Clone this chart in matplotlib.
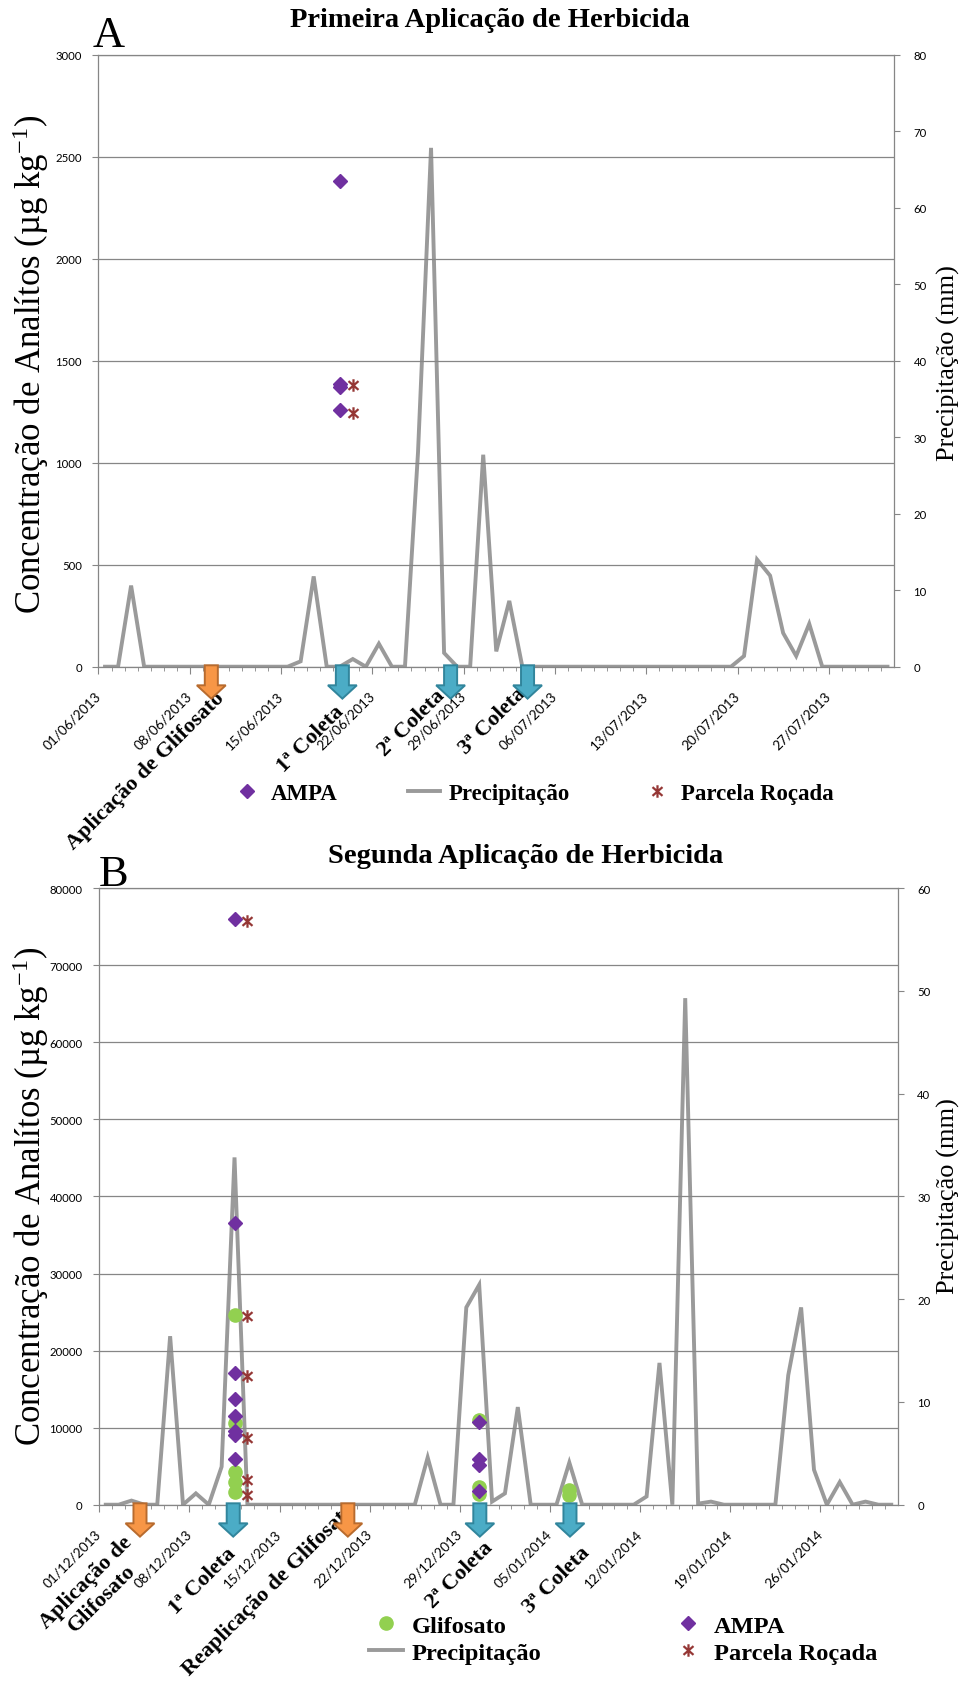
"""
Precipitação diária e concentrações de glifosato / AMPA no solo,
duas campanhas de aplicação de herbicida (painéis A e B).

Gera out.png (970 x 1690 px).
"""

import numpy as np
import matplotlib

matplotlib.use("Agg")
import matplotlib.pyplot as plt
from matplotlib.path import Path
from matplotlib.patches import Polygon
from matplotlib.lines import Line2D
from matplotlib.transforms import Affine2D, ScaledTranslation

plt.rcParams["mathtext.fontset"] = "custom"
plt.rcParams["mathtext.rm"] = "Liberation Serif"
plt.rcParams["mathtext.it"] = "Liberation Serif:italic"
plt.rcParams["mathtext.bf"] = "Liberation Serif:bold"

SERIF = "Liberation Serif"
SANS = "Lato"

CINZA = "#868686"
COR_CHUVA = "#9a9a9a"
COR_AMPA = "#7030A0"
COR_GLIF = "#92D050"
COR_ROCADA = "#953735"

# ---------------- Painel A: 01/06/2013 a 31/07/2013 ----------------
DATAS_A = ["01/06/2013", "08/06/2013", "15/06/2013", "22/06/2013", "29/06/2013",
           "06/07/2013", "13/07/2013", "20/07/2013", "27/07/2013"]

precip_a = [0, 0, 10.6, 0, 0, 0, 0, 0, 0, 0, 0, 0, 0, 0, 0,
            0.7, 11.8, 0, 0, 1.0, 0, 3.0, 0, 0, 28.0, 67.8, 1.8, 0, 0, 27.7, 2.0, 8.6, 0,
            0, 0, 0, 0, 0, 0, 0, 0, 0, 0, 0, 0, 0, 0, 0, 0,
            1.4, 14.0, 11.9, 4.4, 1.4, 5.6,
            0, 0, 0, 0, 0, 0]

ampa_dia_a = [18, 18, 18, 18]
ampa_a = [2380, 1385, 1370, 1258]

rocada_dia_a = [19, 19]
rocada_a = [1378, 1245]

seta_aplic_a = [8.15]
seta_coleta_a = [18.2, 26.5, 32.4]

# ---------------- Painel B: 01/12/2013 a 31/01/2014 ----------------
DATAS_B = ["01/12/2013", "08/12/2013", "15/12/2013", "22/12/2013", "29/12/2013",
           "05/01/2014", "12/01/2014", "19/01/2014", "26/01/2014"]

precip_b = [0, 0, 0.4, 0, 0, 16.4, 0, 1.1, 0, 3.7, 33.8,
            0, 0, 0, 0, 0, 0, 0, 0, 0, 0, 0, 0, 0, 0,
            4.6, 0, 0, 19.2, 21.4, 0.3, 1.1, 9.5, 0, 0, 0, 4.1,
            0, 0, 0, 0, 0,
            0.8, 13.8, 0, 49.3, 0.1, 0.3,
            0, 0, 0, 0, 0,
            12.6, 19.2, 3.4, 0, 2.2, 0, 0.3, 0, 0]

glif_dia_b = [10, 10, 10, 10, 10, 29, 29, 29, 36, 36]
glif_b = [24600, 10550, 4300, 3000, 1700, 11000, 2300, 1400, 1900, 1200]

ampa_dia_b = [10, 10, 10, 10, 10, 10, 10, 10, 29, 29, 29, 29]
ampa_b = [76000, 36600, 17050, 13700, 11500, 9600, 9100, 5900, 10700, 5900, 5100, 1800]

rocada_dia_b = [11, 11, 11, 11, 11, 11]
rocada_b = [75800, 24500, 16700, 8700, 3200, 1300]

seta_aplic_b = [2.66, 18.8]
seta_coleta_b = [9.9, 29.05, 36.05]

# marcador "estrela" do Excel: X com traço vertical
ASTERISCO = Path(
    [(0, -1), (0, 1), (-0.8, -0.7), (0.8, 0.7), (-0.8, 0.7), (0.8, -0.7)],
    [Path.MOVETO, Path.LINETO] * 3,
)

W, H = 970, 1690
fig = plt.figure(figsize=(W / 100, H / 100), dpi=100)


def px_rect(left, top, right, bottom):
    return [left / W, 1 - bottom / H, (right - left) / W, (bottom - top) / H]


def montar_eixos(ax, n_dias, rotulos, ymax, ystep, mm_max):
    """Eixo de concentração (esq.) e eixo de precipitação (dir.)."""
    ax.set_xlim(-0.5, n_dias - 0.5)
    ax.set_ylim(0, ymax)
    ax.set_yticks(np.arange(0, ymax + 1, ystep))
    ax.yaxis.grid(True, color=CINZA, lw=0.9)
    ax.set_xticks(np.arange(0, n_dias, 7) - 0.5)
    ax.set_xticklabels(rotulos, rotation=45, ha="right", va="center",
                       rotation_mode="anchor", fontsize=9.8, family=SANS)
    desloca = ScaledTranslation(8 / 72, 0, fig.dpi_scale_trans)
    for lab in ax.get_xticklabels():
        lab.set_transform(lab.get_transform() + desloca)
    ax.set_xticks(np.arange(n_dias) - 0.5, minor=True)
    ax.tick_params(axis="x", which="major", length=5, color=CINZA, pad=14)
    ax.tick_params(axis="x", which="minor", length=3, color=CINZA)
    ax.tick_params(axis="y", length=4, color=CINZA, labelsize=8.2, pad=8)
    for lab in ax.get_yticklabels():
        lab.set_family(SANS)
    for sp in ax.spines.values():
        sp.set_color(CINZA)
        sp.set_linewidth(0.9)
    ax.spines["right"].set_visible(False)

    ax2 = ax.twinx()
    ax2.set_ylim(0, mm_max)
    ax2.set_yticks(np.arange(0, mm_max + 1, 10))
    ax2.tick_params(axis="y", length=4, color=CINZA, labelsize=8.2, pad=10)
    for lab in ax2.get_yticklabels():
        lab.set_family(SANS)
    for sp in ax2.spines.values():
        sp.set_visible(False)
    ax2.spines["right"].set_visible(True)
    ax2.spines["right"].set_color(CINZA)
    ax2.spines["right"].set_linewidth(0.9)

    ax.set_zorder(ax2.get_zorder() + 1)
    ax.patch.set_visible(False)
    return ax2


def seta(ax, x, fc, ec):
    """Seta larga para baixo, desenhada em pontos a partir de (x, 0)."""
    verts = [(-4.7, 1), (4.7, 1), (4.7, -13.4), (10.4, -13.4), (0, -23),
             (-10.4, -13.4), (-4.7, -13.4)]
    trans = (Affine2D().scale(1 / 72) + fig.dpi_scale_trans
             + ScaledTranslation(x, 0, ax.transData))
    fig.add_artist(Polygon(verts, closed=True, fc=fc, ec=ec, lw=1.4,
                           transform=trans, zorder=6, clip_on=False))


def rotulo_seta(ax, texto, x, dx, dy):
    ax.annotate(texto, xy=(x, 0), xycoords="data",
                xytext=(dx * 0.72, dy * 0.72), textcoords="offset points",
                rotation=45, rotation_mode="anchor", ha="center", va="center",
                fontsize=16, fontweight="bold", family=SERIF,
                annotation_clip=False, zorder=7)


def marcas(ax, dias, valores, tipo):
    if tipo == "ampa":
        ax.plot(dias, valores, ls="none", marker="D", ms=6.8, color=COR_AMPA,
                clip_on=False, zorder=4)
    elif tipo == "glif":
        ax.plot(dias, valores, ls="none", marker="o", ms=9.5, color=COR_GLIF,
                clip_on=False, zorder=3)
    else:
        ax.plot(dias, valores, ls="none", marker=ASTERISCO, ms=9, mew=1.6,
                color=COR_ROCADA, clip_on=False, zorder=4)


# ---------------------------- Painel A ----------------------------
ax_a = fig.add_axes(px_rect(98.5, 55.5, 894, 667.7))
ax_a2 = montar_eixos(ax_a, len(precip_a), DATAS_A, 3000, 500, 80)
ax_a2.plot(np.arange(len(precip_a)), precip_a, color=COR_CHUVA, lw=2.8,
           solid_joinstyle="miter")
marcas(ax_a, ampa_dia_a, ampa_a, "ampa")
marcas(ax_a, rocada_dia_a, rocada_a, "rocada")

for x in seta_aplic_a:
    seta(ax_a, x, "#F79646", "#B86B2E")
for x in seta_coleta_a:
    seta(ax_a, x, "#4BACC6", "#31859C")

rotulo_seta(ax_a, "Aplicação de Glifosato", seta_aplic_a[0], -66, -104)
rotulo_seta(ax_a, "1ª Coleta", seta_coleta_a[0], -32, -72)
rotulo_seta(ax_a, "2ª Coleta", seta_coleta_a[1], -39, -56)
rotulo_seta(ax_a, "3ª Coleta", seta_coleta_a[2], -35, -54)

fig.text(490 / W, 1 - 20.5 / H, "Primeira Aplicação de Herbicida", ha="center",
         va="center", fontsize=20.5, fontweight="bold", family=SERIF)
fig.text(108.5 / W, 1 - 46.7 / H, "A", ha="center", va="baseline",
         fontsize=32, family=SERIF)
fig.text(31 / W, 1 - 364 / H, "Concentração de Analítos (µg kg$^{-1}$)",
         rotation=90, ha="center", va="center", fontsize=25, family=SERIF)
fig.text(948 / W, 1 - 363 / H, "Precipitação (mm)", rotation=90, ha="center",
         va="center", fontsize=19, family=SERIF)

leg_a = [
    Line2D([], [], ls="none", marker="D", ms=6.8, color=COR_AMPA, label="AMPA"),
    Line2D([], [], color=COR_CHUVA, lw=2.8, label="Precipitação"),
    Line2D([], [], ls="none", marker=ASTERISCO, ms=9, mew=1.6,
           color=COR_ROCADA, label="Parcela Roçada"),
]
fig.legend(handles=leg_a, loc="center", bbox_to_anchor=(532 / W, 1 - 794 / H),
           ncol=3, frameon=False, handlelength=1.4, handletextpad=0.35,
           columnspacing=3.1, prop={"family": SERIF, "weight": "bold", "size": 16.5})

# ---------------------------- Painel B ----------------------------
ax_b = fig.add_axes(px_rect(99.3, 889.2, 897.7, 1505.7))
ax_b2 = montar_eixos(ax_b, len(precip_b), DATAS_B, 80000, 10000, 60)
ax_b2.plot(np.arange(len(precip_b)), precip_b, color=COR_CHUVA, lw=2.8,
           solid_joinstyle="miter")
marcas(ax_b, glif_dia_b, glif_b, "glif")
marcas(ax_b, ampa_dia_b, ampa_b, "ampa")
marcas(ax_b, rocada_dia_b, rocada_b, "rocada")

for x in seta_aplic_b:
    seta(ax_b, x, "#F79646", "#B86B2E")
for x in seta_coleta_b:
    seta(ax_b, x, "#4BACC6", "#31859C")

rotulo_seta(ax_b, "Aplicação de\nGlifosato", seta_aplic_b[0], -46, -85)
rotulo_seta(ax_b, "1ª Coleta", seta_coleta_b[0], -31, -76)
rotulo_seta(ax_b, "Reaplicação de Glifosato", seta_aplic_b[1], -79, -84)
rotulo_seta(ax_b, "2ª Coleta", seta_coleta_b[1], -20, -70)
rotulo_seta(ax_b, "3ª Coleta", seta_coleta_b[2], -13, -75)

fig.text(526 / W, 1 - 857 / H, "Segunda Aplicação de Herbicida", ha="center",
         va="center", fontsize=20.5, fontweight="bold", family=SERIF)
fig.text(113.5 / W, 1 - 886 / H, "B", ha="center", va="baseline",
         fontsize=32, family=SERIF)
fig.text(31 / W, 1 - 1196 / H, "Concentração de Analítos (µg kg$^{-1}$)",
         rotation=90, ha="center", va="center", fontsize=25, family=SERIF)
fig.text(948 / W, 1 - 1196 / H, "Precipitação (mm)", rotation=90, ha="center",
         va="center", fontsize=19, family=SERIF)

leg_b = [
    Line2D([], [], ls="none", marker="o", ms=9.5, color=COR_GLIF, label="Glifosato"),
    Line2D([], [], color=COR_CHUVA, lw=2.8, label="Precipitação"),
    Line2D([], [], ls="none", marker="D", ms=6.8, color=COR_AMPA, label="AMPA"),
    Line2D([], [], ls="none", marker=ASTERISCO, ms=9, mew=1.6,
           color=COR_ROCADA, label="Parcela Roçada"),
]
fig.legend(handles=leg_b, loc="center", bbox_to_anchor=(623 / W, 1 - 1640 / H),
           ncol=2, frameon=False, handlelength=1.4, handletextpad=0.35,
           columnspacing=5.3, labelspacing=0.2,
           prop={"family": SERIF, "weight": "bold", "size": 17.6})

fig.savefig("out.png", dpi=100)
